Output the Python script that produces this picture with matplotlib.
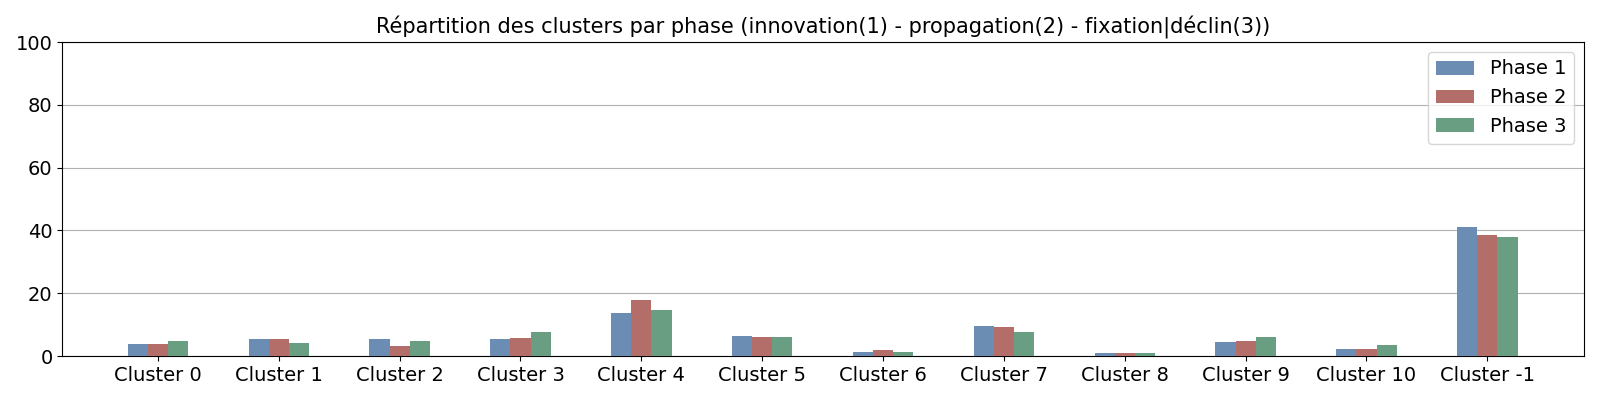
import matplotlib
matplotlib.use("Agg")
import matplotlib.pyplot as plt
import numpy as np

clusters = ["Cluster 0", "Cluster 1", "Cluster 2", "Cluster 3", "Cluster 4", "Cluster 5",
            "Cluster 6", "Cluster 7", "Cluster 8", "Cluster 9", "Cluster 10", "Cluster -1"]
phase1 = [3.9, 5.5, 5.5, 5.5, 13.8, 6.5, 1.3, 9.6, 1.0, 4.5, 2.2, 41.1]
phase2 = [3.9, 5.5, 3.3, 5.8, 17.9, 6.1, 1.9, 9.3, 1.0, 4.8, 2.2, 38.5]
phase3 = [4.9, 4.2, 4.9, 7.7, 14.7, 6.1, 1.3, 7.7, 1.0, 6.1, 3.5, 37.9]

series = [("Phase 1", phase1, "#6b8cb3"),
          ("Phase 2", phase2, "#b36e6a"),
          ("Phase 3", phase3, "#6a9e82")]

fig, ax = plt.subplots(figsize=(16, 4), dpi=100)
fig.subplots_adjust(left=0.039, right=0.99, top=0.895, bottom=0.11)
x = np.arange(len(clusters))
w = 0.5 / 3
for i, (label, vals, color) in enumerate(series):
    ax.bar(x + (i - 1) * w, vals, width=w, color=color, label=label, zorder=3)

ax.set_ylim(0, 100)
ax.set_xlim(-0.79, 11.8)
ax.set_xticks(x)
ax.set_xticklabels(clusters, fontsize=14)
ax.tick_params(axis="y", labelsize=14)
ax.yaxis.grid(True, color="#b0b0b0", zorder=0)
ax.set_title("Répartition des clusters par phase (innovation(1) - propagation(2) - fixation|déclin(3))",
             fontsize=15)
ax.legend(loc="upper right", fontsize=14)
fig.savefig("out.png")
